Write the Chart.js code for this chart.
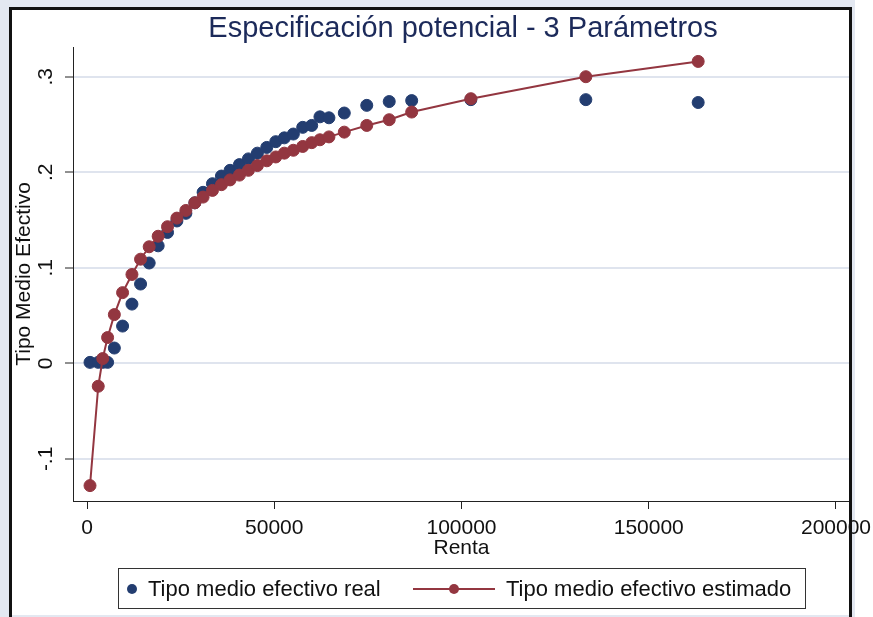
<!DOCTYPE html>
<html>
<head>
<meta charset="utf-8">
<script src="https://cdn.jsdelivr.net/npm/chart.js@4.4.1/dist/chart.umd.min.js"></script>
<style>
  body { margin: 0; width: 873px; height: 617px; background: #fff; position: relative; overflow: hidden;
         font-family: "Liberation Sans", Arial, sans-serif; }
  #band { position: absolute; left: 0; top: 0; width: 855px; height: 617px; background: #e3e8f1; }
  #panel { position: absolute; left: 9px; top: 7px; width: 843px; height: 608px; background: #fff; }
  #frame { position: absolute; left: 9px; top: 7px; width: 843px; height: 620px; box-sizing: border-box;
           border: 3px solid #111; border-bottom: none; z-index: 3; pointer-events: none; }
  canvas { position: absolute; left: 0; top: 0; z-index: 2; }
  #title { position: absolute; left: 0; top: 10px; width: 926px; text-align: center; font-size: 29px;
           line-height: 34px; color: #1c2a5a; z-index: 4; }
  #legend { position: absolute; left: 118px; top: 568px; width: 688px; height: 41px; box-sizing: border-box;
            border: 1px solid #333; z-index: 4; font-size: 22px; color: #111; }
  #legend span { position: absolute; top: 7px; line-height: 26px; white-space: nowrap; }
  .dot { position: absolute; width: 10px; height: 10px; border-radius: 50%; }
  .ln { position: absolute; height: 2px; }
</style>
</head>
<body>
<div id="band"></div>
<div id="panel"></div>
<canvas id="chart" width="873" height="617"></canvas>
<div id="frame"></div>
<div id="title">Especificación potencial - 3 Parámetros</div>
<div id="legend">
  <div class="dot" style="left:8px; top:15px; background:#233d70;"></div>
  <span style="left:29px;">Tipo medio efectivo real</span>
  <div class="ln" style="left:294px; width:82px; top:19px; background:#933640;"></div>
  <div class="dot" style="left:330px; top:15px; background:#933640;"></div>
  <span style="left:387px;">Tipo medio efectivo estimado</span>
</div>
<script>
// Renta por tramo
const renta = [800, 3000, 4200, 5500, 7300, 9500, 12000, 14300, 16600, 19000, 21500, 24000,
  26400, 28800, 31000, 33500, 35900, 38200, 40700, 43100, 45500, 48000, 50400, 52700,
  55100, 57600, 60000, 62200, 64600, 68700, 74700, 80700, 86700, 102500, 133200, 163200];

// Tipo medio efectivo real
const tipoReal = [0.001, 0.001, 0.001, 0.001, 0.016, 0.039, 0.062, 0.083, 0.105, 0.123, 0.137, 0.149,
  0.157, 0.168, 0.179, 0.188, 0.196, 0.202, 0.208, 0.214, 0.220, 0.226, 0.232, 0.236,
  0.240, 0.247, 0.249, 0.258, 0.257, 0.262, 0.270, 0.274, 0.275, 0.276, 0.276, 0.273];

// Tipo medio efectivo estimado
const tipoEstimado = [-0.128, -0.024, 0.005, 0.027, 0.051, 0.074, 0.093, 0.109, 0.122, 0.133, 0.143, 0.152,
  0.160, 0.168, 0.174, 0.181, 0.187, 0.192, 0.197, 0.202, 0.207, 0.212, 0.216, 0.220,
  0.223, 0.227, 0.231, 0.234, 0.237, 0.242, 0.249, 0.255, 0.263, 0.277, 0.300, 0.316];

// Ticks
const xTicks = [0, 50000, 100000, 150000, 200000];
const yTicks = [-0.1, 0, 0.1, 0.2, 0.3];
const yTickLabels = ["-.1", "0", ".1", ".2", ".3"];

const navy = "#233d70";
const maroon = "#933640";
const font = { family: "'Liberation Sans', Arial, sans-serif", size: 21 };

function fixPadding(scale) {
  scale.paddingLeft = 0;
  scale.paddingRight = 0;
  scale.paddingTop = 0;
  scale.paddingBottom = 0;
}

const ctx = document.getElementById("chart").getContext("2d");

new Chart(ctx, {
  type: "scatter",
  data: {
    datasets: [
      {
        label: "Tipo medio efectivo estimado",
        data: renta.map((r, i) => ({ x: r, y: tipoEstimado[i] })),
        showLine: true,
        borderColor: maroon,
        backgroundColor: maroon,
        borderWidth: 2,
        pointRadius: 6,
        pointBorderWidth: 1,
        pointBorderColor: maroon,
        order: 0
      },
      {
        label: "Tipo medio efectivo real",
        data: renta.map((r, i) => ({ x: r, y: tipoReal[i] })),
        borderColor: navy,
        backgroundColor: navy,
        pointRadius: 6,
        pointBorderWidth: 1,
        order: 1
      }
    ]
  },
  options: {
    responsive: false,
    animation: false,
    layout: { padding: { left: 0, top: 47, right: 23, bottom: 54 } },
    plugins: {
      legend: { display: false },
      tooltip: { enabled: false }
    },
    scales: {
      x: {
        type: "linear",
        min: -3740,
        max: 203740,
        afterBuildTicks: (s) => { s.ticks = xTicks.map(v => ({ value: v })); },
        afterFit: (s) => { s.height = 62; fixPadding(s); },
        grid: { drawOnChartArea: false, drawTicks: true, tickLength: 8, tickColor: "#222", tickWidth: 1 },
        border: { display: true, color: "#222", width: 1 },
        ticks: { font: font, color: "#111", padding: 7, maxRotation: 0, callback: (v) => String(v) },
        title: { display: true, text: "Renta", font: font, color: "#111", padding: { top: 0, bottom: 2 } }
      },
      y: {
        type: "linear",
        min: -0.1441,
        max: 0.3311,
        afterBuildTicks: (s) => { s.ticks = yTicks.map(v => ({ value: v })); },
        afterFit: (s) => { s.width = 73; fixPadding(s); },
        grid: { color: "#dfe4ee", lineWidth: 2, drawTicks: true, tickLength: 8, tickColor: "#222", tickWidth: 1 },
        border: { display: true, color: "#222", width: 1 },
        ticks: {
          font: font, color: "#111", padding: 7, minRotation: 90, maxRotation: 90, crossAlign: "center",
          callback: (v) => yTickLabels[yTicks.indexOf(v)]
        },
        title: { display: true, text: "Tipo Medio Efectivo", font: font, color: "#111", padding: { top: 12, bottom: 0 } }
      }
    }
  }
});
</script>
</body>
</html>
